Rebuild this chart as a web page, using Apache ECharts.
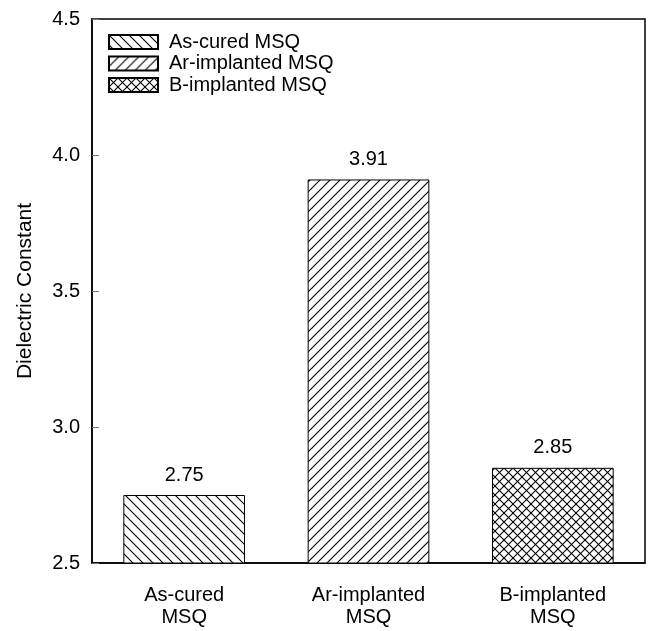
<!DOCTYPE html>
<html>
<head>
<meta charset="utf-8">
<script src="https://cdn.jsdelivr.net/npm/echarts@6/dist/echarts.min.js"></script>
<style>html,body{margin:0;padding:0;background:#fff}#c{width:650px;height:631px}</style>
</head>
<body>
<div id="c"></div>
<script>
var categories = ['As-cured\nMSQ', 'Ar-implanted\nMSQ', 'B-implanted\nMSQ'];
var seriesNames = ['As-cured MSQ', 'Ar-implanted MSQ', 'B-implanted MSQ'];
var values = [2.75, 3.91, 2.85];
var yTicks = [2.5, 3.0, 3.5, 4.0, 4.5];

function hatch(kind) {
  var s = kind === 'cross' ? 9 : 10;
  var c = document.createElement('canvas');
  c.width = s; c.height = s;
  var g = c.getContext('2d');
  g.fillStyle = '#fff'; g.fillRect(0, 0, s, s);
  g.strokeStyle = '#000'; g.lineWidth = 1.1;
  function back() { g.beginPath(); g.moveTo(-1, -1); g.lineTo(s + 1, s + 1); g.stroke(); }
  function fwd() { g.beginPath(); g.moveTo(-1, s + 1); g.lineTo(s + 1, -1); g.stroke();
    g.beginPath(); g.moveTo(-1, 1); g.lineTo(1, -1); g.stroke();
    g.beginPath(); g.moveTo(s - 1, s + 1); g.lineTo(s + 1, s - 1); g.stroke(); }
  function back2() { g.beginPath(); g.moveTo(s - 1, -1); g.lineTo(s + 1, 1); g.stroke();
    g.beginPath(); g.moveTo(-1, s - 1); g.lineTo(1, s + 1); g.stroke(); }
  if (kind === 'back') { back(); back2(); }
  else if (kind === 'fwd') { fwd(); }
  else { back(); back2(); fwd(); }
  return { image: c, repeat: 'repeat' };
}
var patterns = [hatch('back'), hatch('fwd'), hatch('cross')];

var font = 'Liberation Sans, Arial, sans-serif';
var series = seriesNames.map(function (n, i) {
  return {
    name: n,
    type: 'bar',
    stack: 'all',
    barCategoryGap: '34%',
    data: values.map(function (v, j) { return j === i ? v : '-'; }),
    itemStyle: { color: patterns[i], borderColor: '#000', borderWidth: 1 },
    label: {
      show: true, position: 'top', distance: 10, color: '#000',
      fontFamily: font, fontSize: 20,
      formatter: function (p) { return Number(p.value).toFixed(2); }
    }
  };
});

var chart = echarts.init(document.getElementById('c'), null, { renderer: 'canvas' });
chart.setOption({
  animation: false,
  backgroundColor: '#fff',
  grid: { left: 92, right: 5, top: 19, bottom: 68, show: true, borderColor: '#000', borderWidth: 1.5, backgroundColor: 'transparent' },
  legend: {
    data: seriesNames,
    orient: 'vertical',
    left: 103, top: 27,
    itemWidth: 49, itemHeight: 14, itemGap: 1.5,
    textStyle: { fontFamily: font, fontSize: 20, color: '#000', padding: [0, 0, 0, 6] },
    selectedMode: false,
    icon: 'rect'
  },
  xAxis: {
    type: 'category',
    data: categories,
    axisLine: { lineStyle: { color: '#000', width: 1.5 } },
    axisTick: { show: false },
    axisLabel: { color: '#000', fontFamily: font, fontSize: 20, lineHeight: 22, margin: 21 }
  },
  yAxis: {
    type: 'value',
    min: yTicks[0], max: yTicks[yTicks.length - 1], interval: 0.5,
    name: 'Dielectric Constant',
    nameLocation: 'middle', nameGap: 56,
    nameTextStyle: { color: '#000', fontFamily: font, fontSize: 21 },
    axisLine: { show: true, lineStyle: { color: '#000', width: 1.5 } },
    axisTick: { show: true, inside: true, length: 7, lineStyle: { color: '#777', width: 1 } },
    splitLine: { show: false },
    axisLabel: { color: '#000', fontFamily: font, fontSize: 20, margin: 12,
      formatter: function (v) { return v.toFixed(1); } }
  },
  series: series
});
</script>
</body>
</html>
